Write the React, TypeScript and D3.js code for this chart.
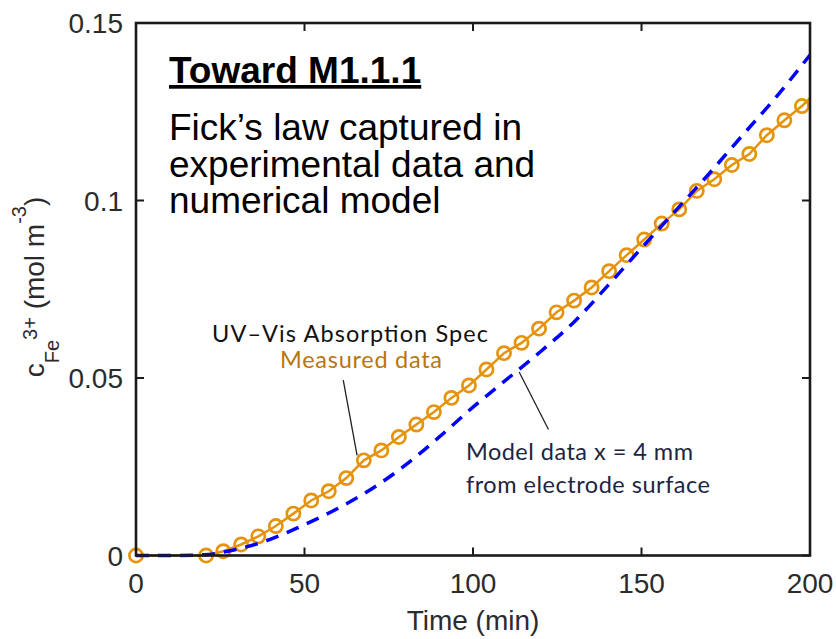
import React, { useEffect, useRef } from "react";
import * as d3 from "d3";

const W = 836;
const H = 639;

// UV-Vis measured concentration (markers), time in min, c in mol m^-3
const measuredTime = [0, 20.8, 25.9, 31.2, 36.3, 41.5, 46.7, 52.0, 57.2, 62.4, 67.6, 72.8, 78.0, 83.2, 88.4, 93.6, 98.8, 104.0, 109.2, 114.4, 119.6, 124.8, 130.0, 135.2, 140.4, 145.6, 150.8, 156.0, 161.2, 166.4, 171.6, 176.8, 182.0, 187.2, 192.4, 197.6];
const measuredConc = [0, 0, 0.0012, 0.0031, 0.0054, 0.0083, 0.0118, 0.0155, 0.0181, 0.0218, 0.0268, 0.0296, 0.0334, 0.0369, 0.0404, 0.0444, 0.0479, 0.0524, 0.057, 0.0599, 0.0639, 0.0685, 0.0718, 0.0755, 0.0801, 0.0846, 0.089, 0.0935, 0.0975, 0.1027, 0.106, 0.11, 0.1131, 0.1184, 0.1226, 0.1266];
// the measured line runs on to the right edge past the last marker
const measuredEndTime = 200;
const measuredEndConc = 0.1288;

// model, x = 4 mm from electrode surface
const modelTime = [0, 10, 20, 30, 40, 50, 60, 70, 80, 90, 100, 110, 120, 130, 140, 150, 160, 170, 180, 190, 200];
const modelConc = [0, 0, 0.0002, 0.0018, 0.0046, 0.0087, 0.0133, 0.0188, 0.0255, 0.0334, 0.0418, 0.0496, 0.0574, 0.0658, 0.0760, 0.0866, 0.0970, 0.1075, 0.1184, 0.1292, 0.141];

const xTicks = [0, 50, 100, 150, 200];
const yTicks = [0, 0.05, 0.1, 0.15];
const yTickLabels = ["0", "0.05", "0.1", "0.15"];

const titleLines = ["Fick\u2019s law captured in", "experimental data and", "numerical model"];

const ORANGE = "#E6930C";
const BLUE = "#0000FF";
const AXIS = "#1a1a1a";
const FONT = "'Liberation Sans', Arial, sans-serif";
const NOTE_FONT = "Lato, 'Open Sans', sans-serif";

export default function App() {
  const ref = useRef<SVGSVGElement>(null);

  useEffect(() => {
    const svg = d3.select(ref.current);
    svg.selectAll("*").remove();

    const x = d3.scaleLinear().domain([0, 200]).range([136, 810]);
    const y = d3.scaleLinear().domain([0, 0.15]).range([555.5, 23]);

    const measured = measuredTime.map((t, i) => ({ t, c: measuredConc[i] }));
    const model = modelTime.map((t, i) => ({ t, c: modelConc[i] }));

    // orange measured line
    const line = d3.line<{ t: number; c: number }>().x(d => x(d.t)).y(d => y(d.c));
    svg.append("path")
      .datum([...measured, { t: measuredEndTime, c: measuredEndConc }])
      .attr("d", line)
      .attr("fill", "none")
      .attr("stroke", ORANGE)
      .attr("stroke-width", 2.5);

    svg.selectAll(".mk")
      .data(measured)
      .join("circle")
      .attr("class", "mk")
      .attr("cx", d => x(d.t))
      .attr("cy", d => y(d.c))
      .attr("r", 6.6)
      .attr("fill", "none")
      .attr("stroke", ORANGE)
      .attr("stroke-width", 2.7);

    // blue dashed model
    const smooth = d3.line<{ t: number; c: number }>().x(d => x(d.t)).y(d => y(d.c)).curve(d3.curveMonotoneX);
    svg.append("path")
      .datum(model)
      .attr("d", smooth)
      .attr("fill", "none")
      .attr("stroke", BLUE)
      .attr("stroke-width", 3.5)
      .attr("stroke-dasharray", "13,9");

    // axes box
    const [x0, x1] = x.range();
    const [y0, y1] = y.range();
    svg.append("rect")
      .attr("x", x0).attr("y", y1)
      .attr("width", x1 - x0).attr("height", y0 - y1)
      .attr("fill", "none")
      .attr("stroke", AXIS)
      .attr("stroke-width", 2.6);

    const tl = 8;
    xTicks.forEach(v => {
      svg.append("line").attr("x1", x(v)).attr("x2", x(v)).attr("y1", y0).attr("y2", y0 - tl).attr("stroke", AXIS).attr("stroke-width", 2);
      svg.append("line").attr("x1", x(v)).attr("x2", x(v)).attr("y1", y1).attr("y2", y1 + tl).attr("stroke", AXIS).attr("stroke-width", 2);
      svg.append("text")
        .attr("x", x(v)).attr("y", 593)
        .attr("text-anchor", "middle")
        .attr("font-family", FONT).attr("font-size", 28).attr("fill", "#2b2b2b")
        .text(v);
    });
    yTicks.forEach((v, i) => {
      svg.append("line").attr("x1", x0).attr("x2", x0 + tl).attr("y1", y(v)).attr("y2", y(v)).attr("stroke", AXIS).attr("stroke-width", 2);
      svg.append("line").attr("x1", x1).attr("x2", x1 - tl).attr("y1", y(v)).attr("y2", y(v)).attr("stroke", AXIS).attr("stroke-width", 2);
      svg.append("text")
        .attr("x", 123).attr("y", y(v) + 10)
        .attr("text-anchor", "end")
        .attr("font-family", FONT).attr("font-size", 28).attr("fill", "#2b2b2b")
        .text(yTickLabels[i]);
    });

    svg.append("text")
      .attr("x", 473).attr("y", 630)
      .attr("text-anchor", "middle")
      .attr("font-family", FONT).attr("font-size", 28).attr("fill", "#2b2b2b")
      .text("Time (min)");

    // y label: c_{Fe^{3+}} (mol m^{-3})
    const yl = svg.append("text")
      .attr("transform", "translate(44,287) rotate(-90)")
      .attr("text-anchor", "middle")
      .attr("font-family", FONT).attr("font-size", 28).attr("fill", "#2b2b2b");
    yl.append("tspan").text("c");
    yl.append("tspan").attr("dy", 15).attr("font-size", 20).text("Fe");
    yl.append("tspan").attr("dy", -22).attr("font-size", 20).text("3+");
    yl.append("tspan").attr("dy", 7).text(" (mol m");
    yl.append("tspan").attr("dy", -18).attr("font-size", 20).text("-3");
    yl.append("tspan").attr("dy", 18).text(")");

    // headline block
    svg.append("text")
      .attr("x", 169).attr("y", 83)
      .attr("font-family", FONT).attr("font-size", 37).attr("font-weight", "bold")
      .attr("text-decoration", "underline")
      .attr("fill", "#000")
      .text("Toward M1.1.1");
    titleLines.forEach((s, i) => {
      svg.append("text")
        .attr("x", 169).attr("y", 140 + i * 36.5)
        .attr("font-family", FONT).attr("font-size", 37)
        .attr("fill", "#000")
        .text(s);
    });

    // annotations (pointer ends in data units)
    const pointers = [
      { a: [61.5, 0.0494], b: [65.6, 0.0282] },
      { a: [113.7, 0.0517], b: [122.4, 0.0355] },
    ];
    pointers.forEach(p => {
      svg.append("line")
        .attr("x1", x(p.a[0])).attr("y1", y(p.a[1]))
        .attr("x2", x(p.b[0])).attr("y2", y(p.b[1]))
        .attr("stroke", "#222").attr("stroke-width", 1.3);
    });

    const note = (s: string, px: number, py: number, len: number, col: string) =>
      svg.append("text")
        .attr("x", px).attr("y", py)
        .attr("font-family", NOTE_FONT).attr("font-size", 23.5)
        .attr("textLength", len)
        .attr("fill", col)
        .text(s);
    note("UV\u2013Vis Absorption Spec", 212, 342, 276, "#111");
    note("Measured data", 280, 368, 162, "#B8760E");
    note("Model data x = 4 mm", 466, 460, 227, "#1C2541");
    note("from electrode surface", 466, 493, 244, "#1C2541");
  }, []);

  return (
    <svg
      ref={ref}
      width={W}
      height={H}
      style={{ position: "absolute", left: 0, top: 0, background: "#fff" }}
    />
  );
}
